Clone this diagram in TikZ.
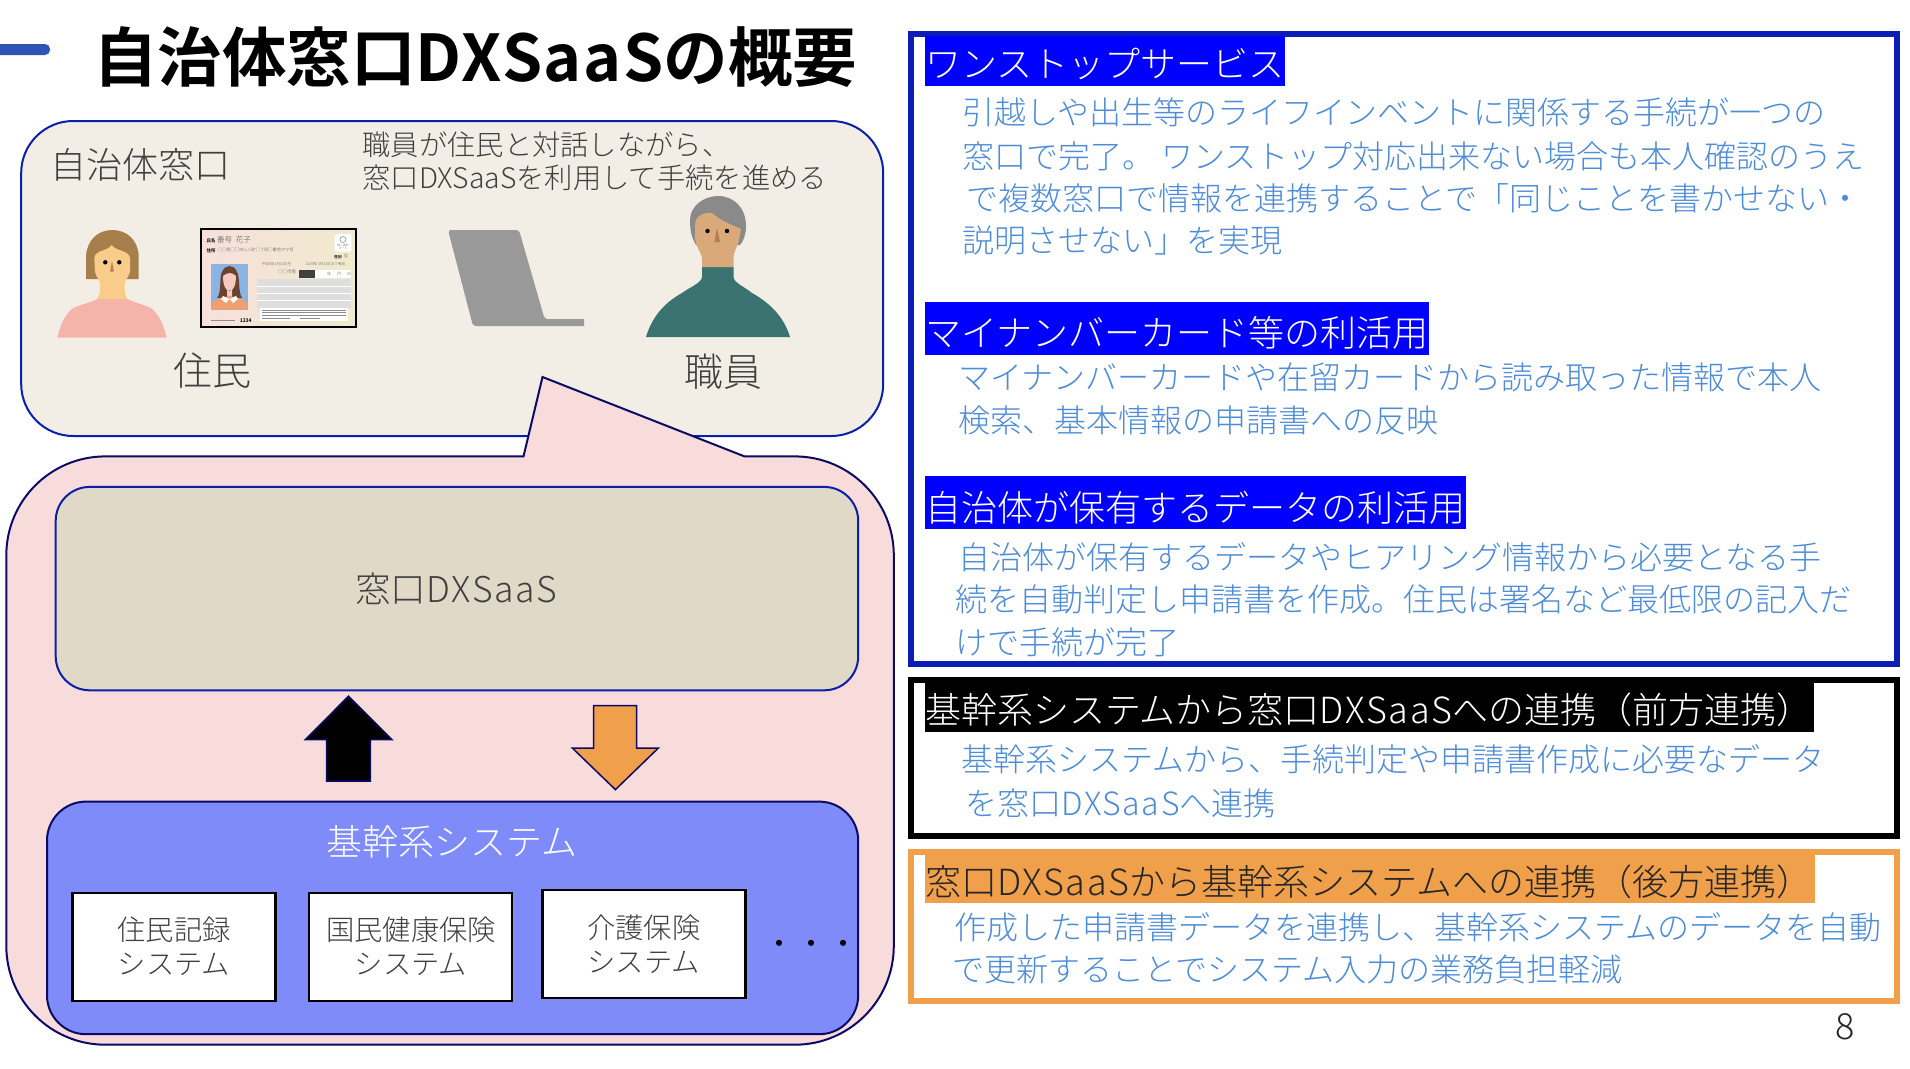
\documentclass[tikz,border=0pt]{standalone}
\usepackage{fontspec}
\setmainfont{Noto Sans CJK JP Light}
\newfontfamily\jpb{Noto Sans CJK JP Bold}
\newcommand\fs[1]{\fontsize{#1}{#1}\selectfont}
\newcommand\st{\rule[-.12em]{0pt}{1em}}
\newcommand\dxl{{\addfontfeatures{LetterSpace=5}DXSaaS}}
\newcommand\dxb{{\addfontfeatures{LetterSpace=2.5}DXSaaS}}
\definecolor{navy}{HTML}{0B0B66}
\definecolor{rblue}{HTML}{0B1DB5}
\definecolor{boxblue}{HTML}{0A20A8}
\definecolor{bodyblue}{HTML}{4E8CD6}
\definecolor{orangeb}{HTML}{F0A04B}
\definecolor{sitebg}{HTML}{F2EEE6}
\definecolor{pinkbg}{HTML}{F8DCDB}
\definecolor{tanbg}{HTML}{E1D9C7}
\definecolor{sysbg}{HTML}{7F8BF8}
\definecolor{inktxt}{HTML}{404040}
\definecolor{barblue}{HTML}{2F55B4}
\tikzset{
  every node/.style={outer sep=0pt},
  rbox/.style={draw=#1,line width=6pt,fill=white,inner sep=0pt,anchor=north west},
  head/.style={fill=#1,inner sep=0pt,anchor=north west},
  headtxt/.style={inner sep=0pt,anchor=west,font=\fs{36},text=#1},
  body/.style={inner sep=0pt,anchor=west,font=\fs{32},text=bodyblue},
  lbl/.style={inner sep=0pt,anchor=center,text=inktxt},
  sysitem/.style={draw=black,line width=2.5pt,fill=white,minimum width=203pt,minimum height=108pt,inner sep=0pt,anchor=north west},
  cardtxt/.style={inner sep=0pt,anchor=center,text=black!70},
}
\begin{document}
\begin{tikzpicture}[x=1pt,y=-1pt]
\useasboundingbox (0,0) rectangle (1910,1068);
\fill[white] (0,0) rectangle (1910,1068);
% title
\fill[rounded corners=5pt,fill=barblue] (-10,44) rectangle (50,55);
\node[inner sep=0pt,anchor=west,font=\jpb\fs{64.5},text=black] (title) at (93,57) {\st 自治体窓口\dxb の概要};
% site box
\node[draw=boxblue,line width=2pt,fill=sitebg,rounded corners=52pt,minimum width=862pt,minimum height=315pt,inner sep=0pt,anchor=north west] (site) at (21.2,121) {};
\node[lbl,anchor=west,font=\fs{36}] (sitelbl) at (50,165) {\st 自治体窓口};
\node[lbl,anchor=west,font=\fs{28.3}] (note1) at (362.5,145) {\st 職員が住民と対話しながら、};
\node[lbl,anchor=west,font=\fs{28.3}] (note2) at (362.5,178) {\st 窓口DXSaaSを利用して手続を進める};
\node[lbl,font=\fs{39}] (jumin) at (212.5,371) {\st 住民};
\node[lbl,font=\fs{39}] (shokuin) at (723.3,371.5) {\st 職員};
% woman
\fill[fill={rgb,255:red,244;green,180;blue,170}] (99.3,298.3) -- (126,298.3) .. controls (135,303) and (146,305) .. (152,309) .. controls (160,316) and (164,326) .. (166.7,337.7) -- (57.3,337.7) .. controls (60,326) and (64,316) .. (72,309) .. controls (78,305) and (90,303) .. (99.3,298.3) -- cycle;
\fill[fill={rgb,255:red,166;green,127;blue,75}] (86,279) -- (86,256) .. controls (87,240) and (98,230) .. (112.3,230) .. controls (127,230) and (138,240) .. (138.7,256) -- (138.7,279) -- cycle;
\fill[fill={rgb,255:red,249;green,205;blue,137}] (111.7,245) .. controls (108,251) and (95,250) .. (94.3,258) -- (95,271.7) .. controls (96,277) and (100,280) .. (100,284) -- (100,290) .. controls (100,294) and (98,296) .. (96.7,299) -- (127.3,299) .. controls (126,296) and (124.7,294) .. (124.7,290) -- (124.7,284) .. controls (124.7,280) and (129,277) .. (130,271.7) -- (130,258) .. controls (129,250) and (115,251) .. (111.7,245) -- cycle;
\fill[black] (105.3,262.3) circle (2.2pt) (119.3,262.3) circle (2.2pt);
\fill[fill={rgb,255:red,184;green,128;blue,96}] (112,261) -- (110,271.7) -- (114,271.7) -- cycle;
% ID card
\begin{scope}
\clip (201,228.5) rectangle (356,326.5);
\shade[left color={rgb,255:red,247;green,224;blue,220},right color={rgb,255:red,240;green,234;blue,205}] (201,228.5) rectangle (356,326.5);
\fill[fill={rgb,255:red,140;green,180;blue,226}] (210.7,264) rectangle (247.7,310);
\fill[fill={rgb,255:red,106;green,66;blue,46}] (217,298) .. controls (222,292) and (219,276) .. (222,272) .. controls (225,264) and (234,264) .. (237,272) .. controls (240,276) and (238,292) .. (242,298) -- cycle;
\fill[fill={rgb,255:red,245;green,200;blue,192}] (223,276) .. controls (228,272) and (232,272) .. (236,276) .. controls (236,286) and (233,291) .. (229.5,291) .. controls (226,291) and (223,286) .. (223,276) -- cycle (227,290) rectangle (232,298);
\fill[fill={rgb,255:red,240;green,160;blue,110}] (211.5,309.5) -- (212,303) .. controls (216,298) and (222,298) .. (229.5,296) .. controls (237,298) and (243,298) .. (247,303) -- (247,309.5) -- cycle;
\fill[white] (223,296) -- (229.5,299) -- (226,303) -- (221,299) -- cycle (236,296) -- (229.5,299) -- (233,303) -- (238,299) -- cycle;
\fill[fill={rgb,255:red,222;green,222;blue,222}] (257.3,279.3) rectangle (350.7,307.7);
\draw[white,line width=.6pt] (257.3,286.5) -- (350.7,286.5) (257.3,293.5) -- (350.7,293.5) (257.3,300.5) -- (350.7,300.5);
\fill[white] (260,307.7) rectangle (348,321);
\foreach \yy in {310,312.5,315}{\draw[black!45,line width=.7pt] (262,\yy) -- (346,\yy);}
\draw[black!45,line width=.7pt] (262,318) -- (290,318) (300,318) -- (320,318);
\draw[black!45,line width=1pt] (210.7,320.7) -- (235,320.7);
\fill[white,rounded corners=2pt] (334.7,234) rectangle (351.3,251.7);
\draw[black!50,line width=.5pt] (343,239.5) circle (3pt);
\fill[fill=black!75] (299,270) rectangle (315,277.7);
\fill[white] (315,270) rectangle (351.3,277.7);
\end{scope}
\node[cardtxt,font=\jpb\fs{4.5},text=black] (cardnamelbl) at (211,240.7) {氏名};
\node[cardtxt,font=\fs{7.5}] (cardname) at (234,239.7) {番号\hspace{.5em}花子};
\node[cardtxt,font=\jpb\fs{4.5},text=black] (cardaddrlbl) at (211,250.5) {住所};
\node[cardtxt,anchor=west,font=\fs{4.2}] (cardaddr) at (218,250) {○○県□□市△△町○丁目○番地ママ号};
\node[cardtxt,font=\jpb\fs{3.6},text=black] (cardsexlbl) at (338,256.7) {性別};
\node[cardtxt,font=\fs{4.5}] (cardsex) at (346,255.7) {女};
\node[cardtxt,font=\fs{3.6}] (cardbirth) at (276.5,264) {平成6年3月31日生};
\node[cardtxt,font=\fs{3.6}] (cardexp) at (325.5,264) {2029年 3月31日まで有効};
\node[cardtxt,font=\fs{4.5}] (cardmayor) at (287,271.7) {○○市長};
\node[cardtxt,font=\fs{4}] (cardy) at (329,274) {年};
\node[cardtxt,font=\fs{4}] (cardm) at (339,274) {月};
\node[cardtxt,font=\fs{4}] (cardd) at (349,274) {日};
\node[cardtxt,font=\fs{2.8},align=center] (cardlogo) at (343,247) {個人番号\\カード};
\node[cardtxt,font=\jpb\fs{5},text=black] (cardno) at (245.7,320.7) {1234};
\draw[black,line width=2pt] (201,228.5) rectangle (356,326.5);
% laptop
\fill[fill={rgb,255:red,153;green,153;blue,153},rounded corners=3pt] (448,230) -- (519,230) -- (544.6,319) [sharp corners] -- (584,319) -- (584,326) [rounded corners=3pt] -- (473,326) -- cycle;
% man
\fill[fill={rgb,255:red,58;green,115;blue,112}] (702,267) -- (733.5,267) -- (733.5,277) .. controls (734,283) and (745,287) .. (752,293) .. controls (770,303) and (784,317) .. (790,337) -- (646,337) .. controls (652,317) and (664,303) .. (682,293) .. controls (690,287) and (701.5,283) .. (702,277) -- cycle;
\fill[fill={rgb,255:red,138;green,138;blue,138}] (690,220) .. controls (690,206) and (704,196) .. (718,196) .. controls (734,196) and (746,208) .. (746,226) .. controls (746,236) and (742,243) .. (740,245) -- (696,245) .. controls (692,238) and (690,232) .. (690,220) -- cycle;
\fill[fill={rgb,255:red,217;green,169;blue,122}] (702,267) -- (702,258) .. controls (700,250) and (695,246) .. (695,236) -- (695,224) .. controls (695,217) and (703,212) .. (712,213) .. controls (722,222) and (735,226) .. (741,229) -- (739,240) .. controls (737,248) and (733.5,252) .. (733.5,258) -- (733.5,267) -- cycle;
\fill[black] (707.5,231) circle (2.2pt) (727,231) circle (2.2pt);
\fill[fill={rgb,255:red,184;green,122;blue,80}] (717,228) -- (714.5,242) -- (720,242) -- cycle;
% DX callout
\draw[draw=navy,line width=2pt,fill=pinkbg] (523.5,456.4) -- (542.5,377) -- (744.5,456.4) [rounded corners=99pt] -- (893.8,456.4) -- (893.8,1044.7) -- (6.3,1044.7) -- (6.3,456.4) [sharp corners] -- cycle;
\node[draw=boxblue,line width=2pt,fill=tanbg,rounded corners=34pt,minimum width=802.5pt,minimum height=203.4pt,inner sep=0pt,anchor=north west] (saas) at (55.7,486.9) {};
\node[lbl,font=\fs{35.5}] (saaslbl) at (456.4,588.6) {\st 窓口\dxl};
% system
\node[draw=navy,line width=2pt,fill=sysbg,rounded corners=39pt,minimum width=811.2pt,minimum height=232.6pt,inner sep=0pt,anchor=north west] (sys) at (47,801.6) {};
\node[lbl,font=\fs{36},text=white] (syslbl) at (452,841.7) {\st 基幹系システム};
\node[sysitem] (s1) at (72.3,892.9) {};
\node[lbl,font=\fs{28.3}] (s1a) at (174,929.8) {\st 住民記録};
\node[lbl,font=\fs{28.3}] (s1b) at (174,963.8) {\st システム};
\node[sysitem] (s2) at (308.8,892.9) {};
\node[lbl,font=\fs{28.3}] (s2a) at (411,929.8) {\st 国民健康保険};
\node[lbl,font=\fs{28.3}] (s2b) at (411,963.8) {\st システム};
\node[sysitem] (s3) at (542.5,890.2) {};
\node[lbl,font=\fs{28.3}] (s3a) at (643.8,927.8) {\st 介護保険};
\node[lbl,font=\fs{28.3}] (s3b) at (643.8,961.8) {\st システム};
\node[lbl,font=\fs{32},text=black] (dots) at (811.4,943.8) {\st ・・・};
% block arrows
\draw[draw=navy,line width=1.5pt,fill=black,line join=miter] (348.5,696.2) -- (392,739.6) -- (370.3,739.6) -- (370.3,781.2) -- (326.6,781.2) -- (326.6,739.6) -- (305.4,739.6) -- cycle;
\draw[draw=navy,line width=1.5pt,fill=orangeb,line join=miter] (593.6,705.5) -- (636.6,705.5) -- (636.6,748) -- (658.4,748) -- (615.4,789.6) -- (572.3,748) -- (593.6,748) -- cycle;
% right panels
\node[rbox=rblue,minimum width=986pt,minimum height=630pt] (p1) at (910.7,33.7) {};
\node[rbox=black,minimum width=986pt,minimum height=155.7pt] (p2) at (910.7,679.9) {};
\node[rbox=orangeb,minimum width=986pt,minimum height=149.2pt] (p3) at (910.7,851.5) {};
\node[head=blue,minimum width=360pt,minimum height=50pt] (h1) at (925,36) {};
\node[headtxt=white] (h1t) at (925,64) {\st ワンストップサービス};
\node[body] (a1) at (962,112) {\st 引越しや出生等のライフインベントに関係する手続が一つの};
\node[body] (a2) at (962,156) {\st 窓口で完了。 ワンストップ対応出来ない場合も本人確認のうえ};
\node[body] (a3) at (966,198.5) {\st で複数窓口で情報を連携することで「同じことを書かせない・};
\node[body] (a4) at (962,240) {\st 説明させない」を実現};
\node[head=blue,minimum width=503.8pt,minimum height=53pt] (h2) at (925,302) {};
\node[headtxt=white] (h2t) at (925,333) {\st マイナンバーカード等の利活用};
\node[body] (b1) at (958,377) {\st マイナンバーカードや在留カードから読み取った情報で本人};
\node[body] (b2) at (958,420.5) {\st 検索、基本情報の申請書への反映};
\node[head=blue,minimum width=541pt,minimum height=53pt] (h3) at (925,476) {};
\node[headtxt=white] (h3t) at (925,507.5) {\st 自治体が保有するデータの利活用};
\node[body] (c1) at (958.6,557.4) {\st 自治体が保有するデータやヒアリング情報から必要となる手};
\node[body] (c2) at (955.6,599.8) {\st 続を自動判定し申請書を作成。住民は署名など最低限の記入だ};
\node[body] (c3) at (955,642.5) {\st けで手続が完了};
\node[head=black,minimum width=889pt,minimum height=49.1pt] (h4) at (925,682.7) {};
\node[headtxt=white] (h4t) at (925,710.3) {\st 基幹系システムから窓口\dxl への連携（前方連携）};
\node[body] (d1) at (961.4,759.4) {\st 基幹系システムから、手続判定や申請書作成に必要なデータ};
\node[body] (d2) at (965.6,803.3) {\st を窓口\dxl へ連携};
\node[head=orangeb,minimum width=890.3pt,minimum height=48.7pt] (h5) at (925,854.3) {};
\node[headtxt=black!85] (h5t) at (925,881.9) {\st 窓口\dxl から基幹系システムへの連携（後方連携）};
\node[body] (e1) at (954.6,927.6) {\st 作成した申請書データを連携し、基幹系システムのデータを自動};
\node[body] (e2) at (952.6,969.8) {\st で更新することでシステム入力の業務負担軽減};
\node[lbl,font=\fs{36},text=black!85] (pageno) at (1845,1025.5) {\st 8};
\end{tikzpicture}
\end{document}
